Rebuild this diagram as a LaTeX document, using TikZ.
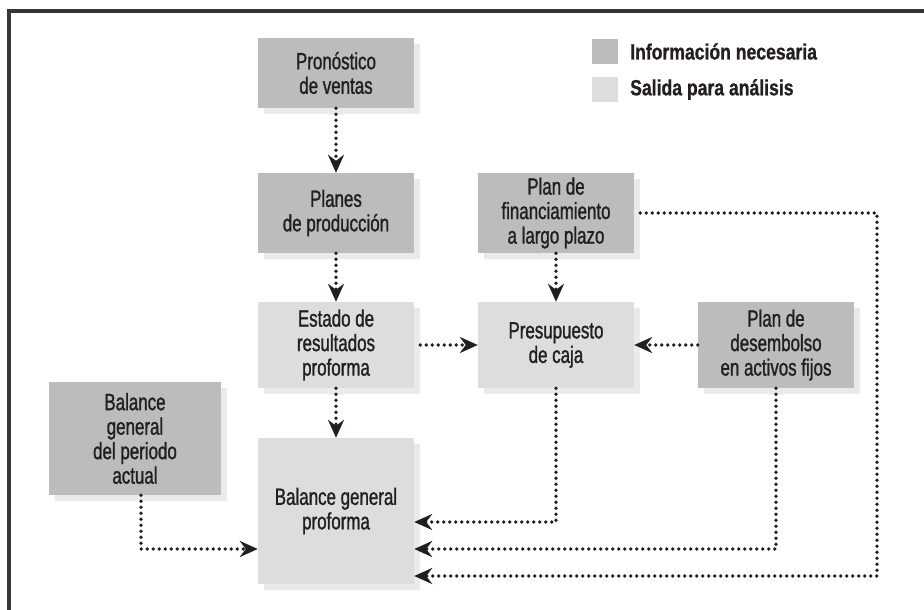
\documentclass[tikz,border=0pt]{standalone}
\usepackage{fontspec}
\setmainfont{Liberation Sans}[FakeStretch=0.72, FakeBold=1.2]
\newfontfamily\legfont{Liberation Sans}[FakeStretch=0.8, FakeBold=0.8]
\usetikzlibrary{arrows.meta,shadows,calc}
\definecolor{boxdark}{HTML}{BBBCBE}
\definecolor{boxlight}{HTML}{DCDDDF}
\definecolor{shadowc}{HTML}{EAEAEA}
\definecolor{ink}{HTML}{231F20}
\begin{document}
\begin{tikzpicture}[x=1pt,y=-1pt,
  box/.style={rectangle, minimum width=156pt, align=center, text=ink,
    font=\fontsize{23.5}{24.5}\selectfont, inner sep=0pt,
    drop shadow={shadow xshift=6pt, shadow yshift=-6pt, fill=shadowc, opacity=1}},
  info/.style={box, fill=boxdark},
  outbox/.style={box, fill=boxlight},
  legsq/.style={rectangle, minimum width=26pt, minimum height=25pt, inner sep=0pt},
  legtext/.style={anchor=west, text=ink, inner sep=0pt, font=\legfont\bfseries\fontsize{22}{24}\selectfont},
  flow/.style={draw=ink, line width=3.8pt, dash pattern=on 0pt off 6pt, line cap=round,
    -{Stealth[length=18pt,width=16pt,inset=6pt]}}
]
\useasboundingbox (0,0) rectangle (924,610);
\fill[white] (0,0) rectangle (924,610);
% frame
\draw[line width=3.5pt, draw=ink!90] (9,610) -- (9,11) -- (924,11);

% legend
\node[legsq, fill=boxdark] (l1) at (605,51.5) {};
\node[legtext] (l1t) at (630,51.5) {Información necesaria};
\node[legsq, fill=boxlight] (l2) at (605,89.5) {};
\node[legtext] (l2t) at (630,89.5) {Salida para análisis};

% boxes
\node[info, minimum height=70pt] (fc) at (336,73) {Pronóstico\\de ventas};
\node[info, minimum height=80pt] (pp) at (336,213) {Planes\\de producción};
\node[info, minimum height=80pt] (fin) at (556,213) {Plan de\\financiamiento\\a largo plazo};
\node[outbox, minimum height=86pt] (er) at (336,345) {Estado de\\resultados\\proforma};
\node[outbox, minimum height=86pt] (pc) at (556,345) {Presupuesto\\de caja};
\node[info, minimum height=86pt] (de) at (776,345) {Plan de\\desembolso\\en activos fijos};
\node[info, minimum width=172pt, minimum height=113pt] (ba) at (135,438.5) {Balance\\general\\del periodo\\actual};
\node[outbox, minimum height=146pt] (bp) at (336,511) {Balance general\\proforma};

% connectors
\draw[flow] (fc.south) -- (pp.north);
\draw[flow] (pp.south) -- (er.north);
\draw[flow] (er.south) -- (bp.north);
\draw[flow] (fin.south) -- (pc.north);
\draw[flow, shorten <=6pt] (er.east) -- (pc.west);
\draw[flow] (de.west) -- (pc.east);
\draw[flow] (pc.south) |- ($(bp.east)+(0,11)$);
\draw[flow] (de.south) |- ($(bp.east)+(0,38)$);
\coordinate (fr) at (877,576);
\draw[flow, shorten <=6pt] (fin.east) -| (fr) -- (bp.east |- fr);
\draw[flow] ([xshift=6pt]ba.south) |- ($(bp.west)+(0,38)$);
\end{tikzpicture}
\end{document}
